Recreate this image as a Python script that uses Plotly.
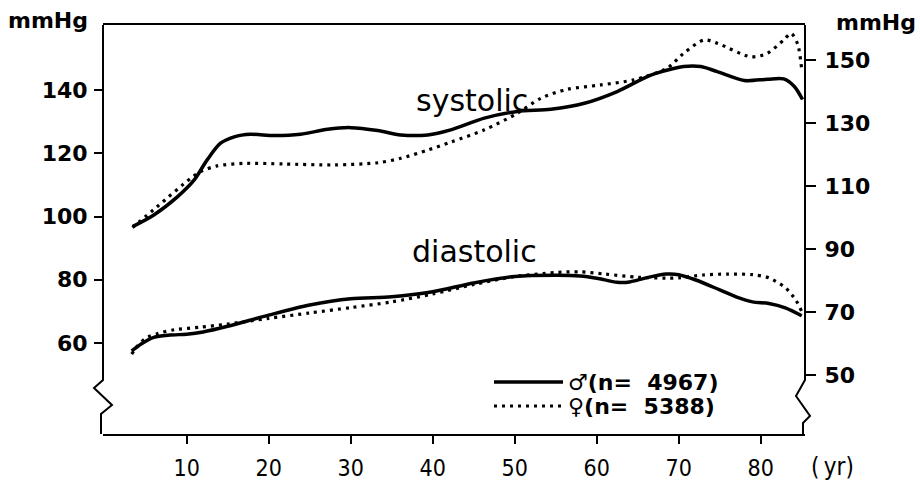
import plotly.graph_objects as go

# ---- data ----
age_sys_m = [3.4, 6.0, 8.9, 10.9, 12.5, 14.1, 15.8, 17.8, 20.6, 23.9, 27.2, 30.0, 33.3, 36.1, 39.4,
             42.2, 46.3, 50.3, 54.4, 58.5, 62.5, 66.6, 70.6, 72.7, 74.7, 78.0, 80.8, 82.8, 84.1, 85.1]
sys_m = [96.8, 100.5, 106.3, 111.5, 117.9, 123.1, 125.2, 126.0, 125.6, 126.0, 127.6, 128.1, 127.2, 125.8, 125.8,
         127.4, 131.1, 133.2, 133.9, 135.8, 139.5, 144.7, 147.4, 147.4, 145.8, 143.0, 143.4, 143.5, 141.1, 137.0]

age_sys_f = [3.4, 6.4, 10.5, 11.7, 13.7, 17.0, 21.9, 28.0, 33.3, 36.1, 39.4, 42.2, 46.3, 50.3, 53.2,
             56.4, 60.5, 64.5, 68.6, 70.6, 73.1, 74.7, 78.8, 80.8, 82.8, 83.7, 84.5, 85.0]
sys_f = [96.5, 103.1, 112.1, 114.2, 116.0, 116.8, 116.6, 116.3, 117.0, 118.4, 121.0, 123.5, 127.4, 132.6, 137.4,
         140.2, 141.6, 143.2, 146.9, 151.6, 155.8, 154.8, 150.5, 151.6, 155.8, 157.9, 154.5, 146.5]

age_dia_m = [3.3, 4.5, 6.0, 8.0, 10.0, 12.0, 15.0, 20.0, 25.0, 30.0, 35.0, 40.0, 45.0, 50.0, 55.0,
             58.0, 60.0, 62.5, 64.0, 66.0, 68.5, 70.0, 72.0, 75.0, 77.0, 79.0, 81.0, 83.0, 85.0]
dia_m = [57.5, 59.8, 61.8, 62.5, 62.8, 63.5, 65.3, 68.8, 72.0, 74.0, 74.6, 76.2, 79.0, 81.0, 81.4,
         81.2, 80.5, 79.2, 79.3, 80.6, 81.8, 81.6, 80.0, 76.8, 74.6, 73.0, 72.5, 71.1, 68.6]

age_dia_f = [3.3, 4.0, 5.0, 6.5, 8.5, 11.7, 15.0, 20.0, 25.0, 30.0, 35.0, 40.0, 45.0, 50.0, 55.0,
             58.0, 61.0, 65.0, 68.5, 70.0, 73.0, 76.0, 79.0, 81.0, 83.0, 84.3, 85.0]
dia_f = [56.5, 59.0, 61.5, 63.0, 64.2, 65.0, 66.0, 67.8, 69.5, 71.2, 73.0, 75.5, 78.5, 81.0, 82.3,
         82.5, 81.8, 80.8, 80.5, 80.6, 81.5, 81.8, 81.6, 80.6, 77.5, 73.5, 70.0]

x_ticks = [10, 20, 30, 40, 50, 60, 70, 80]
y_left_ticks = [60, 80, 100, 120, 140]
y_right_ticks = [50, 70, 90, 110, 130, 150]
legend_labels = ["\u2642(n=\u00a0\u00a04967)", "\u2640(n=\u00a0\u00a05388)"]
curve_labels = ["systolic", "diastolic"]

# ---- layout geometry (pixels) ----
W, H = 920, 483
L, R, T, B = 103, 805, 25, 434


def px(x):
    return (x - L) / (R - L)


def py(y):
    return (B - y) / (B - T)


SOLID = dict(color="black", width=3.5)
DOT = dict(color="black", width=3.2, dash="3px,5px")

fig = go.Figure()
for xs, ys, ln in [(age_sys_m, sys_m, SOLID), (age_sys_f, sys_f, DOT),
                   (age_dia_m, dia_m, SOLID), (age_dia_f, dia_f, DOT)]:
    fig.add_trace(go.Scatter(x=xs, y=ys, mode="lines", line=dict(shape="spline", smoothing=0.8, **ln),
                             showlegend=False, hoverinfo="skip"))

# invisible trace to activate right axis
fig.add_trace(go.Scatter(x=[None], y=[None], yaxis="y2", showlegend=False))

tickfont = dict(family="DejaVu Sans", size=22, color="black", weight="bold")

fig.update_layout(
    width=W, height=H, autosize=False, showlegend=False,
    margin=dict(l=L, r=W - R, t=T, b=H - B, pad=0, autoexpand=False),
    paper_bgcolor="white", plot_bgcolor="white",
    xaxis=dict(range=[-0.2, 85.4], tickvals=x_ticks, ticks="outside", ticklen=8, tickwidth=2,
               tickcolor="black", showline=True, linecolor="black", linewidth=2, mirror=True,
               showgrid=False, zeroline=False, automargin=False,
               tickfont=dict(family="DejaVu Sans Condensed", size=23, color="black"),
               ticklabelstandoff=4),
    yaxis=dict(range=[31.23, 160.55], tickvals=y_left_ticks, ticks="outside", ticklen=8, tickwidth=2,
               tickcolor="black", showline=False, showgrid=False, zeroline=False, tickfont=tickfont,
               ticklabelstandoff=2, automargin=False),
    yaxis2=dict(range=[31.27, 161.1], tickvals=y_right_ticks, ticks="outside", ticklen=10, tickwidth=2,
                tickcolor="black", showline=False, showgrid=False, zeroline=False, overlaying="y",
                side="right", tickfont=tickfont, ticklabelstandoff=4, automargin=False),
)

# vertical axes with break marks
left_path = [(103, T), (103, 380), (94, 388), (112, 405), (101, 414), (101, B)]
right_path = [(805, T), (805, 380), (796, 396), (810, 416), (803, 423), (803, B)]
for pth in (left_path, right_path):
    d = "M " + " L ".join(f"{px(a):.5f},{py(b):.5f}" for a, b in pth)
    fig.add_shape(type="path", path=d, xref="paper", yref="paper",
                  line=dict(color="black", width=2))

# axis unit labels
lab = dict(family="DejaVu Sans", size=22, color="black", weight="bold")
fig.add_annotation(x=px(48), y=py(20), xref="paper", yref="paper", text="mmHg", showarrow=False,
                   font=lab, xanchor="center", yanchor="middle")
fig.add_annotation(x=px(876), y=py(22), xref="paper", yref="paper", text="mmHg", showarrow=False,
                   font=lab, xanchor="center", yanchor="middle")
fig.add_annotation(x=px(832), y=py(467), xref="paper", yref="paper", text="(\u2009yr)", showarrow=False,
                   font=dict(family="DejaVu Sans Condensed", size=24, color="black"),
                   xanchor="center", yanchor="middle")

# curve labels
cfont = dict(family="DejaVu Sans", size=30, color="black")
fig.add_annotation(x=px(472), y=py(101), xref="paper", yref="paper", text=curve_labels[0],
                   showarrow=False, font=cfont, xanchor="center", yanchor="middle")
fig.add_annotation(x=px(474), y=py(251), xref="paper", yref="paper", text=curve_labels[1],
                   showarrow=False, font=cfont, xanchor="center", yanchor="middle")

# legend (manual)
for i, (ln, txt) in enumerate(zip([SOLID, DOT], legend_labels)):
    yy = 382 + 24 * i
    fig.add_shape(type="line", x0=px(494), x1=px(563), y0=py(yy), y1=py(yy), xref="paper", yref="paper",
                  line=ln)
    fig.add_annotation(x=px(566), y=py(yy), xref="paper", yref="paper", text=txt, showarrow=False,
                       font=dict(family="DejaVu Sans", size=22, color="black", weight="bold"),
                       xanchor="left", yanchor="middle")

fig.write_html("out.html")
